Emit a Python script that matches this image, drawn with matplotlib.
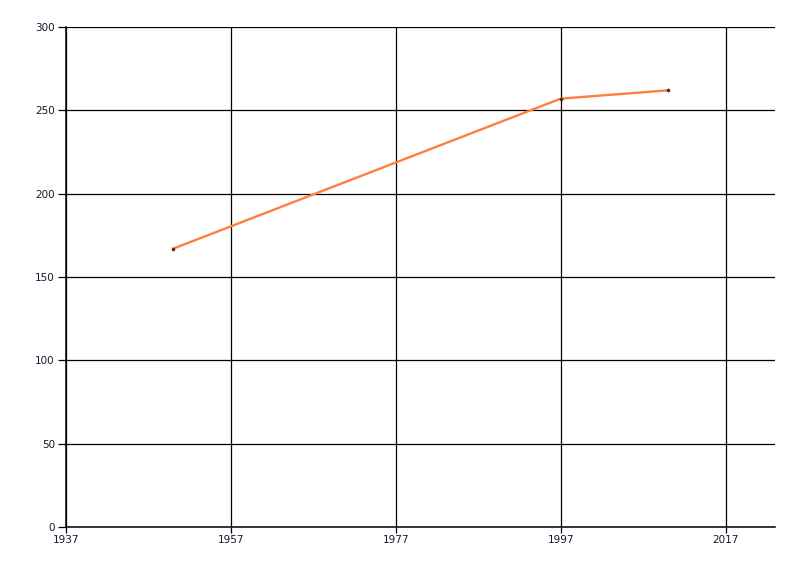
import matplotlib
matplotlib.use("Agg")
import matplotlib.pyplot as plt

years = [1950, 1997, 2010]
values = [167, 257, 262]

x_ticks = [1937, 1957, 1977, 1997, 2017]
y_ticks = [0, 50, 100, 150, 200, 250, 300]

fig = plt.figure(figsize=(8, 5.76), dpi=100)
ax = fig.add_axes([66 / 800, 49 / 576, 709 / 800, 500 / 576])

ax.plot(years, values, color="#ff7f3f", linewidth=1.7, zorder=3)
ax.plot(years, values, linestyle="none", marker="o", markersize=1.6,
        color="#503020", zorder=4)

ax.set_xlim(1937, 2023)
ax.set_ylim(0, 300)
ax.set_xticks(x_ticks)
ax.set_yticks(y_ticks)

ax.grid(True, color="black", linewidth=0.9)
ax.set_axisbelow(True)
for side in ["top", "right"]:
    ax.spines[side].set_visible(False)
for side in ["left", "bottom"]:
    ax.spines[side].set_linewidth(1.1)

ax.tick_params(axis="y", length=6, width=0.9, pad=2, labelsize=7.5,
               labelcolor="#101830")
ax.tick_params(axis="x", length=4, width=0.9, pad=2, labelsize=7.5,
               labelcolor="#101830")
for lbl in ax.get_xticklabels() + ax.get_yticklabels():
    lbl.set_family(["Liberation Sans Narrow", "DejaVu Sans"])

fig.savefig("out.png", dpi=100)
